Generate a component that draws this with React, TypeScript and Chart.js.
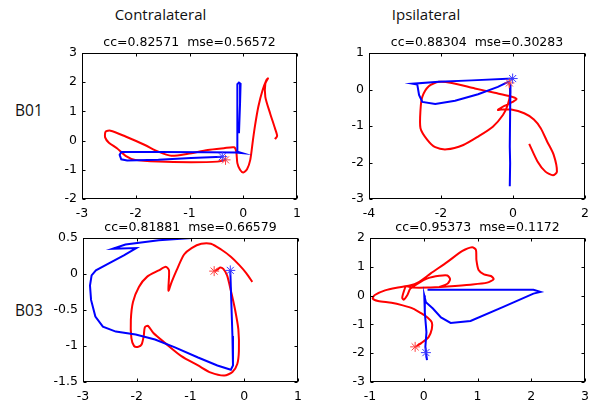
import React, { useEffect, useRef } from "react";
import { Chart, registerables } from "chart.js";
Chart.register(...registerables);

type Pt = [number, number];

// ---------- text ----------
const columnTitles = ["Contralateral", "Ipsilateral"];
const rowTitles = ["B01", "B03"];
const statTitles = [
  "cc=0.82571  mse=0.56572",
  "cc=0.88304  mse=0.30283",
  "cc=0.81881  mse=0.66579",
  "cc=0.95373  mse=0.1172",
];

// ---------- axis ticks ----------
const b01ContraXTicks = [-3, -2, -1, 0, 1];
const b01ContraYTicks = [-2, -1, 0, 1, 2, 3];
const b01IpsiXTicks = [-4, -2, 0, 2];
const b01IpsiYTicks = [-3, -2, -1, 0, 1];
const b03ContraXTicks = [-3, -2, -1, 0, 1];
const b03ContraYTicks = [-1.5, -1, -0.5, 0, 0.5];
const b03IpsiXTicks = [-1, 0, 1, 2, 3];
const b03IpsiYTicks = [-3, -2, -1, 0, 1, 2];

// ---------- B01 contralateral ----------
const b01ContraRed: Pt[] = [
  [-0.33, -0.66], [-0.48, -0.72], [-0.97, -0.74], [-1.58, -0.72], [-2.01, -0.66],
  [-2.19, -0.52], [-2.35, -0.26], [-2.5, -0.07], [-2.57, 0.11], [-2.56, 0.31],
  [-2.47, 0.34], [-2.19, 0.14], [-1.83, -0.15], [-1.58, -0.38], [-1.34, -0.52],
  [-1.03, -0.45], [-0.66, -0.32], [-0.36, -0.26], [-0.17, -0.23], [-0.13, -0.38],
  [-0.11, -0.77], [-0.06, -1.0], [0.0, -1.09], [0.07, -0.98], [0.13, -0.66],
  [0.18, 0.02], [0.22, 0.53], [0.28, 1.16], [0.36, 1.73], [0.43, 2.07],
  [0.46, 2.13], [0.41, 1.95], [0.41, 1.5], [0.5, 0.93], [0.59, 0.42],
  [0.63, 0.16], [0.59, 0.05],
];
const b01ContraBlue: Pt[] = [
  [-0.39, -0.55], [-0.97, -0.6], [-1.58, -0.66], [-2.16, -0.68], [-2.27, -0.64],
  [-2.3, -0.49], [-2.27, -0.39], [-1.58, -0.39], [-0.66, -0.4], [-0.14, -0.41],
  [-0.02, -0.43], [-0.11, -0.38], [-0.11, 0.36], [-0.11, 1.27], [-0.11, 1.93],
  [-0.08, 1.99], [-0.05, 1.95], [-0.06, 1.27], [-0.08, 0.25],
];
const b01ContraRedStar: Pt[] = [[-0.33, -0.66]];
const b01ContraBlueStar: Pt[] = [[-0.39, -0.55]];

// ---------- B01 ipsilateral ----------
const b01IpsiRed: Pt[] = [
  [-0.1, 0.18], [-0.08, -0.11], [-0.15, -0.43], [-0.28, -0.7], [-0.56, -1.02],
  [-0.97, -1.29], [-1.38, -1.52], [-1.84, -1.64], [-2.16, -1.58], [-2.38, -1.38],
  [-2.57, -1.06], [-2.57, -0.56], [-2.52, -0.2], [-2.34, 0.09], [-2.06, 0.21],
  [-1.7, 0.18], [-1.06, 0.03], [-0.51, -0.09], [-0.1, -0.18], [0.1, -0.26],
  [-0.01, -0.34], [-0.24, -0.45], [-0.42, -0.56], [-0.33, -0.55], [-0.05, -0.55],
  [0.31, -0.65], [0.58, -0.82], [0.77, -1.06], [0.95, -1.43], [1.13, -1.79],
  [1.22, -2.25], [1.11, -2.35], [0.9, -2.25], [0.68, -1.97], [0.45, -1.49],
];
const b01IpsiBlue: Pt[] = [
  [-0.01, 0.3], [-1.15, 0.25], [-2.06, 0.21], [-2.78, 0.16], [-2.66, 0.14],
  [-2.61, -0.15], [-2.52, -0.34], [-2.16, -0.4], [-1.61, -0.31], [-0.97, -0.13],
  [-0.42, 0.07], [-0.13, 0.21], [-0.07, 0.12], [-0.08, -0.65], [-0.09, -1.56],
  [-0.08, -2.02], [-0.09, -2.65],
];
const b01IpsiRedStar: Pt[] = [[-0.1, 0.18]];
const b01IpsiBlueStar: Pt[] = [[-0.01, 0.3]];

// ---------- B03 contralateral ----------
const b03ContraRed: Pt[] = [
  [-0.56, 0.04], [-0.5, 0.06], [-0.45, 0.09], [-0.39, 0.07], [-0.32, -0.02],
  [-0.25, -0.23], [-0.17, -0.5], [-0.11, -0.77], [-0.1, -1.07], [-0.13, -1.25],
  [-0.22, -1.36], [-0.37, -1.41], [-0.62, -1.37], [-0.86, -1.27], [-1.17, -1.14],
  [-1.47, -0.96], [-1.69, -0.82], [-1.79, -0.72], [-1.85, -0.74], [-1.87, -0.86],
  [-1.91, -0.98], [-1.97, -1.01], [-2.05, -1.0], [-2.1, -0.89], [-2.11, -0.64],
  [-2.07, -0.39], [-1.96, -0.18], [-1.81, -0.04], [-1.59, 0.05], [-1.46, 0.1],
  [-1.4, 0.05], [-1.41, -0.23], [-1.35, -0.11], [-1.26, 0.05], [-1.12, 0.27],
  [-0.98, 0.36], [-0.8, 0.42], [-0.62, 0.42], [-0.43, 0.34], [-0.25, 0.24],
  [-0.1, 0.13], [0.04, 0.01], [0.15, -0.11],
];
const b03ContraBlue: Pt[] = [
  [-0.26, 0.05], [-0.24, -0.41], [-0.22, -0.86], [-0.21, -1.27], [-0.25, -1.33],
  [-0.5, -1.27], [-0.86, -1.16], [-1.29, -1.02], [-1.66, -0.91], [-2.02, -0.84],
  [-2.39, -0.8], [-2.63, -0.73], [-2.77, -0.59], [-2.85, -0.36], [-2.87, -0.16],
  [-2.84, -0.02], [-2.76, 0.05], [-2.51, 0.15], [-2.24, 0.26], [-2.01, 0.36],
  [-2.45, 0.35], [-2.21, 0.41], [-1.59, 0.47], [-0.98, 0.5], [-0.56, 0.5],
];
const b03ContraRedStar: Pt[] = [[-0.56, 0.04]];
const b03ContraBlueStar: Pt[] = [[-0.26, 0.05]];

// ---------- B03 ipsilateral ----------
const b03IpsiRed: Pt[] = [
  [-0.16, -1.78], [-0.04, -1.64], [0.09, -1.44], [0.15, -1.16], [0.15, -0.93],
  [0.07, -0.76], [-0.05, -0.61], [-0.2, -0.45], [-0.39, -0.34], [-0.6, -0.25],
  [-0.85, -0.19], [-0.95, -0.1], [-0.91, 0.02], [-0.72, 0.18], [-0.48, 0.28],
  [-0.26, 0.35], [-0.11, 0.45], [0.13, 0.77], [0.44, 1.17], [0.72, 1.55],
  [0.9, 1.68], [0.97, 1.59], [0.98, 1.23], [1.02, 0.89], [1.12, 0.74],
  [1.25, 0.68], [1.3, 0.57], [1.18, 0.45], [0.87, 0.38], [0.44, 0.32],
  [0.07, 0.28], [-0.2, 0.28], [-0.33, 0.32], [-0.37, 0.15], [-0.4, -0.08],
  [-0.37, -0.14], [-0.31, 0.0], [-0.25, 0.24], [-0.12, 0.41], [0.07, 0.6],
  [0.29, 0.69], [0.44, 0.7], [0.49, 0.57], [0.44, 0.41], [0.29, 0.3],
];
const b03IpsiBlue: Pt[] = [
  [0.07, 0.2], [0.87, 0.2], [2.04, 0.2], [2.17, 0.13], [2.04, 0.07],
  [1.48, -0.39], [0.87, -0.88], [0.5, -0.95], [0.32, -0.76], [0.17, -0.45],
  [0.04, -0.23], [0.01, 0.0], [0.02, -0.59], [0.05, -1.27], [0.03, -1.78],
  [0.06, -2.24], [0.04, -1.98],
];
const b03IpsiRedStar: Pt[] = [[-0.16, -1.78]];
const b03IpsiBlueStar: Pt[] = [[0.04, -1.98]];

// ---------- layout constants ----------
const Y_AXIS_W = 45;
const X_AXIS_H = 20;
const TOP_H = 23;
const RIGHT_PAD = 8;
const FONT = "'DejaVu Sans', sans-serif";

const boxPlugin = {
  id: "matlabBox",
  afterDatasetsDraw(chart: any) {
    const { ctx, chartArea: a, scales } = chart;
    const L = Math.round(a.left) + 0.5;
    const R = Math.round(a.right) - 0.5;
    const T = Math.round(a.top) + 0.5;
    const B = Math.round(a.bottom) - 0.5;
    ctx.save();
    ctx.strokeStyle = "#000";
    ctx.lineWidth = 1;
    ctx.strokeRect(L, T, R - L, B - T);
    const tl = 3;
    ctx.beginPath();
    scales.x.ticks.forEach((t: any) => {
      const px = Math.round(scales.x.getPixelForValue(t.value)) + 0.5;
      ctx.moveTo(px, B);
      ctx.lineTo(px, B - tl);
      ctx.moveTo(px, T);
      ctx.lineTo(px, T + tl);
    });
    scales.y.ticks.forEach((t: any) => {
      const py = Math.round(scales.y.getPixelForValue(t.value)) + 0.5;
      ctx.moveTo(L, py);
      ctx.lineTo(L + tl, py);
      ctx.moveTo(R, py);
      ctx.lineTo(R - tl, py);
    });
    ctx.stroke();
    ctx.restore();
  },
};

const toXY = (arr: Pt[]) => arr.map(([x, y]) => ({ x, y }));

type PanelProps = {
  plotLeft: number;
  plotTop: number;
  plotW: number;
  plotH: number;
  title: string;
  xTicks: number[];
  yTicks: number[];
  red: Pt[];
  blue: Pt[];
  redStar: Pt[];
  blueStar: Pt[];
};

function Panel(p: PanelProps) {
  const ref = useRef<HTMLCanvasElement>(null);
  const width = Y_AXIS_W + p.plotW + RIGHT_PAD;
  const height = TOP_H + p.plotH + X_AXIS_H;
  useEffect(() => {
    if (!ref.current) return;
    const chart = new Chart(ref.current, {
      type: "scatter",
      data: {
        datasets: [
          {
            data: toXY(p.blueStar),
            pointStyle: "star",
            pointRadius: 5,
            borderColor: "#3a3aff",
            backgroundColor: "#3a3aff",
            borderWidth: 1,
            showLine: false,
          },
          {
            data: toXY(p.redStar),
            pointStyle: "star",
            pointRadius: 5,
            borderColor: "#ff4040",
            backgroundColor: "#ff4040",
            borderWidth: 1,
            showLine: false,
          },
          {
            data: toXY(p.blue),
            showLine: true,
            borderColor: "#0000ff",
            borderWidth: 2,
            pointRadius: 0,
            tension: 0,
          },
          {
            data: toXY(p.red),
            showLine: true,
            borderColor: "#ff0000",
            borderWidth: 2,
            pointRadius: 0,
            tension: 0.25,
          },
        ],
      },
      options: {
        animation: false,
        responsive: false,
        events: [],
        layout: { padding: { top: 5, right: RIGHT_PAD, bottom: 0, left: 0 } },
        plugins: {
          legend: { display: false },
          tooltip: { enabled: false },
          title: {
            display: true,
            text: p.title,
            fullSize: false,
            color: "#000",
            font: { family: FONT, size: 12.5, weight: "normal", lineHeight: 1.2 },
            padding: { top: 0, bottom: 3 },
          },
        },
        scales: {
          x: {
            type: "linear",
            min: p.xTicks[0],
            max: p.xTicks[p.xTicks.length - 1],
            grid: { display: false, drawTicks: false },
            border: { display: false },
            afterBuildTicks: (s: any) => {
              s.ticks = p.xTicks.map((v) => ({ value: v }));
            },
            afterFit: (s: any) => {
              s.height = X_AXIS_H;
            },
            ticks: {
              color: "#000",
              padding: 7,
              maxRotation: 0,
              autoSkip: false,
              font: { family: FONT, size: 12.5 },
              callback: (v: any) => String(v),
            },
          },
          y: {
            type: "linear",
            min: p.yTicks[0],
            max: p.yTicks[p.yTicks.length - 1],
            grid: { display: false, drawTicks: false },
            border: { display: false },
            afterBuildTicks: (s: any) => {
              s.ticks = p.yTicks.map((v) => ({ value: v }));
            },
            afterFit: (s: any) => {
              s.width = Y_AXIS_W;
            },
            ticks: {
              color: "#000",
              padding: 5,
              autoSkip: false,
              font: { family: FONT, size: 12.5 },
              callback: (v: any) => String(v),
            },
          },
        },
      },
      plugins: [boxPlugin],
    } as any);
    return () => chart.destroy();
  }, []);
  return (
    <canvas
      ref={ref}
      width={width}
      height={height}
      style={{
        position: "absolute",
        left: p.plotLeft - Y_AXIS_W,
        top: p.plotTop - TOP_H,
        width,
        height,
      }}
    />
  );
}

const headStyle: React.CSSProperties = {
  position: "absolute",
  fontFamily: "'Open Sans', sans-serif",
  fontSize: 15,
  lineHeight: "15px",
  color: "#111",
  whiteSpace: "nowrap",
};

export default function App() {
  return (
    <div
      style={{
        position: "absolute",
        left: 0,
        top: 0,
        width: 591,
        height: 402,
        overflow: "hidden",
        background: "#fff",
      }}
    >
      <div style={{ ...headStyle, left: 0, width: 321, top: 7, textAlign: "center" }}>{columnTitles[0]}</div>
      <div style={{ ...headStyle, left: 326, width: 200, top: 7, textAlign: "center" }}>{columnTitles[1]}</div>
      <div style={{ ...headStyle, left: 15, top: 103, fontSize: 15.5 }}>{rowTitles[0]}</div>
      <div style={{ ...headStyle, left: 15, top: 303, fontSize: 15.5 }}>{rowTitles[1]}</div>
      <Panel
        plotLeft={82}
        plotTop={53}
        plotW={218}
        plotH={146}
        title={statTitles[0]}
        xTicks={b01ContraXTicks}
        yTicks={b01ContraYTicks}
        red={b01ContraRed}
        blue={b01ContraBlue}
        redStar={b01ContraRedStar}
        blueStar={b01ContraBlueStar}
      />
      <Panel
        plotLeft={369}
        plotTop={53}
        plotW={219}
        plotH={146}
        title={statTitles[1]}
        xTicks={b01IpsiXTicks}
        yTicks={b01IpsiYTicks}
        red={b01IpsiRed}
        blue={b01IpsiBlue}
        redStar={b01IpsiRedStar}
        blueStar={b01IpsiBlueStar}
      />
      <Panel
        plotLeft={83}
        plotTop={238}
        plotW={218}
        plotH={144}
        title={statTitles[2]}
        xTicks={b03ContraXTicks}
        yTicks={b03ContraYTicks}
        red={b03ContraRed}
        blue={b03ContraBlue}
        redStar={b03ContraRedStar}
        blueStar={b03ContraBlueStar}
      />
      <Panel
        plotLeft={370}
        plotTop={238}
        plotW={218}
        plotH={144}
        title={statTitles[3]}
        xTicks={b03IpsiXTicks}
        yTicks={b03IpsiYTicks}
        red={b03IpsiRed}
        blue={b03IpsiBlue}
        redStar={b03IpsiRedStar}
        blueStar={b03IpsiBlueStar}
      />
    </div>
  );
}
